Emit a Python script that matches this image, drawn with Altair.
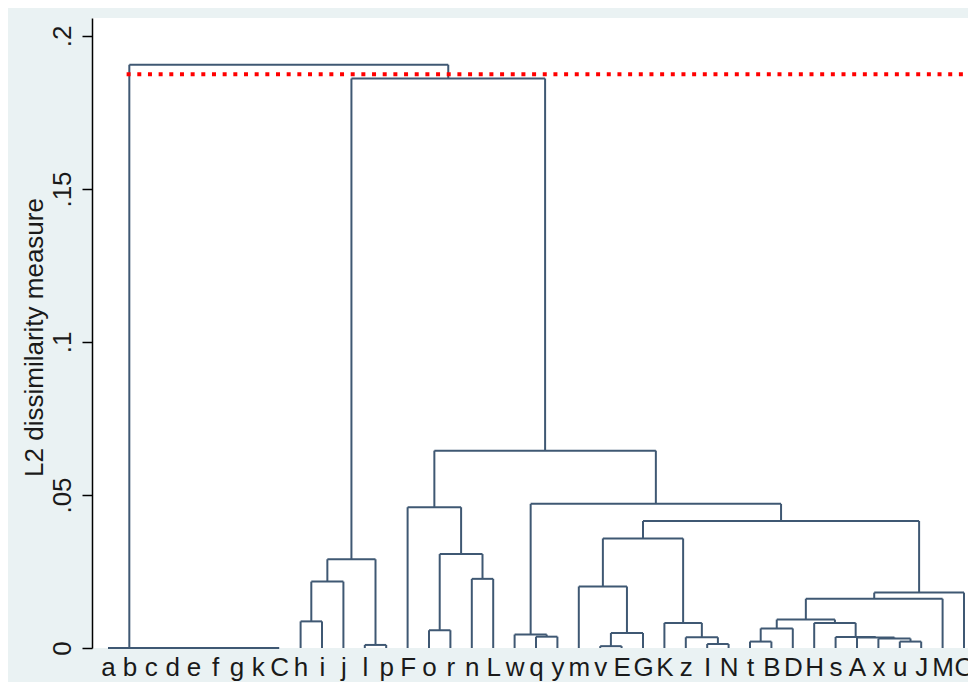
import altair as alt
import pandas as pd

# ---- data ----
leaves = ["a", "b", "c", "d", "e", "f", "g", "k", "C", "h", "i", "j", "l", "p",
          "F", "o", "r", "n", "L", "w", "q", "y", "m", "v", "E", "G", "K", "z",
          "I", "N", "t", "B", "D", "H", "s", "A", "x", "u", "J", "M", "O"]

# merges: ids < 41 are leaves, merge k gets id 41 + k
merge_left = [7, 6, 5, 4, 3, 2, 1, 0,
              23, 12, 28, 30, 37, 36, 35, 34, 27, 20, 19, 49, 15, 52, 26, 9,
              33, 62, 66, 67, 22, 64, 17, 70, 61, 69, 74, 14, 59, 76, 72, 48]
merge_right = [8, 41, 42, 43, 44, 45, 46, 47,
               24, 13, 29, 31, 38, 53, 54, 55, 51, 21, 58, 25, 16, 32, 57, 10,
               56, 65, 39, 40, 60, 11, 18, 50, 71, 63, 68, 73, 75, 77, 78, 79]
merge_height = [0, 0, 0, 0, 0, 0, 0, 0,
                0.0006, 0.0010, 0.0013, 0.0021, 0.0021, 0.0031, 0.0034, 0.0036,
                0.0035, 0.0037, 0.0044, 0.0049, 0.0058, 0.0064, 0.0082, 0.0087,
                0.0082, 0.0093, 0.0161, 0.0181, 0.0201, 0.0217, 0.0226, 0.0290,
                0.0307, 0.0358, 0.0415, 0.0460, 0.0471, 0.0645, 0.1861, 0.1906]

cut_height = 0.1875
cut_start = 0.87

y_ticks = [0, 0.05, 0.1, 0.15, 0.2]

# ---- build dendrogram segments ----
n = len(leaves)
pos = {i: float(i) for i in range(n)}
hgt = {i: 0.0 for i in range(n)}
rows = []
for k, (l, r, h) in enumerate(zip(merge_left, merge_right, merge_height)):
    nid = n + k
    pos[nid] = (pos[l] + pos[r]) / 2
    hgt[nid] = h
    rows.append({"x": pos[l], "x2": pos[l], "y": hgt[l], "y2": h})
    rows.append({"x": pos[r], "x2": pos[r], "y": hgt[r], "y2": h})
    rows.append({"x": pos[l], "x2": pos[r], "y": h, "y2": h})
segs = pd.DataFrame(rows)

x_min, x_max = -0.748, 40.187
y_max = 0.20588

xscale = alt.Scale(domain=[x_min, x_max], nice=False, zero=False)
yscale = alt.Scale(domain=[0, y_max], nice=False, zero=False)

label_arr = "[" + ",".join("'" + s + "'" for s in leaves) + "]"
FONT = "Liberation Sans"

x_axis = alt.Axis(
    values=list(range(n)), labelExpr=label_arr + "[datum.value]",
    title=None, domain=False, ticks=False, tickSize=0, grid=False,
    labelFont=FONT, labelFontSize=26, labelColor="#1a1a1a",
    labelBaseline="alphabetic", labelPadding=27, labelOverlap=False,
    labelFlush=False, labelBound=False, labelSeparation=0,
)
y_axis = alt.Axis(
    values=y_ticks,
    labelExpr="datum.value == 0 ? '0' : replace('' + datum.value, '0.', '.')",
    title="L2 dissimilarity measure", grid=False,
    domainColor="#000000", domainWidth=1.5, tickColor="#000000", tickWidth=1.5,
    tickSize=10, labelAngle=270, labelAlign="center", labelBaseline="alphabetic",
    labelPadding=12, labelFont=FONT, labelFontSize=26, labelColor="#1a1a1a",
    labelFlush=False, labelOverlap=False,
    titleFont=FONT, titleFontSize=26, titleFontWeight="normal", titleColor="#1a1a1a",
    titleAngle=270, titleAlign="center", titleBaseline="alphabetic",
    titleX=-50, titleY=319,
)

lines = alt.Chart(segs).mark_rule(color="#3f5873", strokeWidth=2).encode(
    x=alt.X("x:Q", scale=xscale, axis=x_axis),
    x2="x2:Q",
    y=alt.Y("y:Q", scale=yscale, axis=y_axis),
    y2="y2:Q",
)

cut = alt.Chart(pd.DataFrame({"x": [cut_start], "x2": [x_max], "y": [cut_height]})).mark_rule(
    color="#ff0000", strokeWidth=4, strokeDash=[4, 6.67], strokeCap="butt"
).encode(
    x=alt.X("x:Q", scale=xscale, axis=x_axis),
    x2="x2:Q",
    y=alt.Y("y:Q", scale=yscale, axis=y_axis),
)

chart = (
    alt.layer(lines, cut)
    .properties(
        width=876, height=630,
        autosize=alt.AutoSizeParams(type="none"),
        padding={"left": 84, "top": 10, "right": 0, "bottom": 34},
        background="#eaf2f3",
    )
    .configure_view(stroke=None, fill="#ffffff")
    .configure_axis(labelOverlap=False)
)

chart.save("out.html", embed_options={"renderer": "svg", "actions": False})
